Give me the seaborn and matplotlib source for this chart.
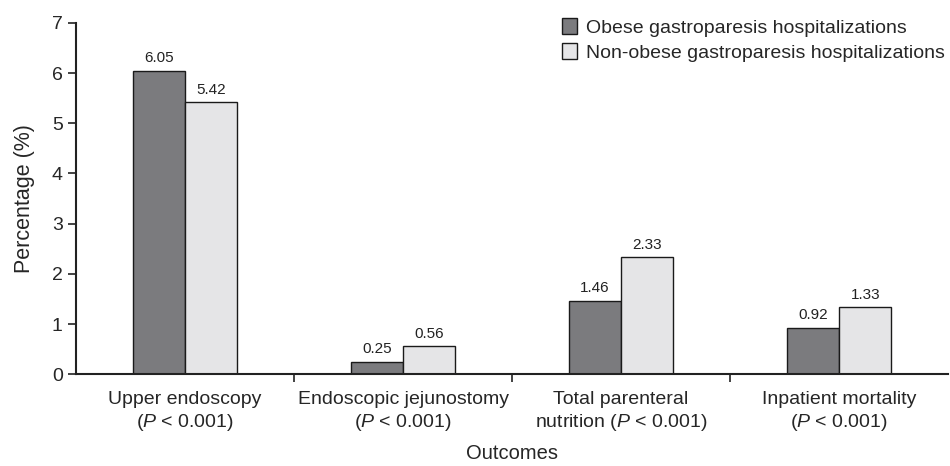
import numpy as np
import pandas as pd
import matplotlib
matplotlib.use("Agg")
import matplotlib.pyplot as plt
import seaborn as sns

categories = ["Upper endoscopy\n($\\it{P}$ < 0.001)",
              "Endoscopic jejunostomy\n($\\it{P}$ < 0.001)",
              "Total parenteral\nnutrition ($\\it{P}$ < 0.001)",
              "Inpatient mortality\n($\\it{P}$ < 0.001)"]
groups = ["Obese gastroparesis hospitalizations",
          "Non-obese gastroparesis hospitalizations"]
obese = [6.05, 0.25, 1.46, 0.92]
non_obese = [5.42, 0.56, 2.33, 1.33]

df = pd.DataFrame({
    "Outcome": categories * 2,
    "Group": [groups[0]] * 4 + [groups[1]] * 4,
    "Percentage": obese + non_obese,
})

sns.set_style("ticks")
plt.rcParams["font.family"] = ["Liberation Sans", "DejaVu Sans"]
plt.rcParams["mathtext.fontset"] = "custom"
plt.rcParams["mathtext.it"] = "Liberation Sans:italic"
plt.rcParams["mathtext.rm"] = "Liberation Sans"

fig = plt.figure(figsize=(9.5, 4.66), dpi=100)
ax = fig.add_axes([0.08, 0.197, 0.918, 0.754])

sns.barplot(data=df, x="Outcome", y="Percentage", hue="Group", ax=ax,
            palette=["#7b7b7e", "#e5e5e7"], edgecolor="#1a1a1a", linewidth=1.0,
            width=0.48, saturation=1)

for cont in ax.containers:
    ax.bar_label(cont, fmt="%.2f", padding=4, fontsize=11, color="#222222")

ax.set_ylim(0, 7)
ax.set_xlim(-0.5, 3.5)
ax.set_yticks(range(8))
ax.tick_params(axis="y", labelsize=14, length=6, width=1.2, color="#222222")
ax.set_xticks(range(4))
ax.set_xticklabels(categories, fontsize=14, linespacing=1.25)
ax.tick_params(axis="x", which="major", length=0, pad=12)
ax.set_xticks([0.5, 1.5, 2.5], minor=True)
ax.tick_params(axis="x", which="minor", length=6, width=1.2, color="#222222")
for s in ["left", "bottom"]:
    ax.spines[s].set_linewidth(1.5)
    ax.spines[s].set_color("#222222")
sns.despine(ax=ax)

ax.set_xlabel("Outcomes", fontsize=14.5, labelpad=8)
ax.set_ylabel("Percentage (%)", fontsize=15.5, labelpad=12)

leg = ax.legend(loc="upper right", bbox_to_anchor=(1.005, 1.035), frameon=False,
                fontsize=14, handlelength=0.8, handleheight=0.9,
                labelspacing=0.3, handletextpad=0.45, borderaxespad=0)

fig.savefig("out.png", dpi=100)
